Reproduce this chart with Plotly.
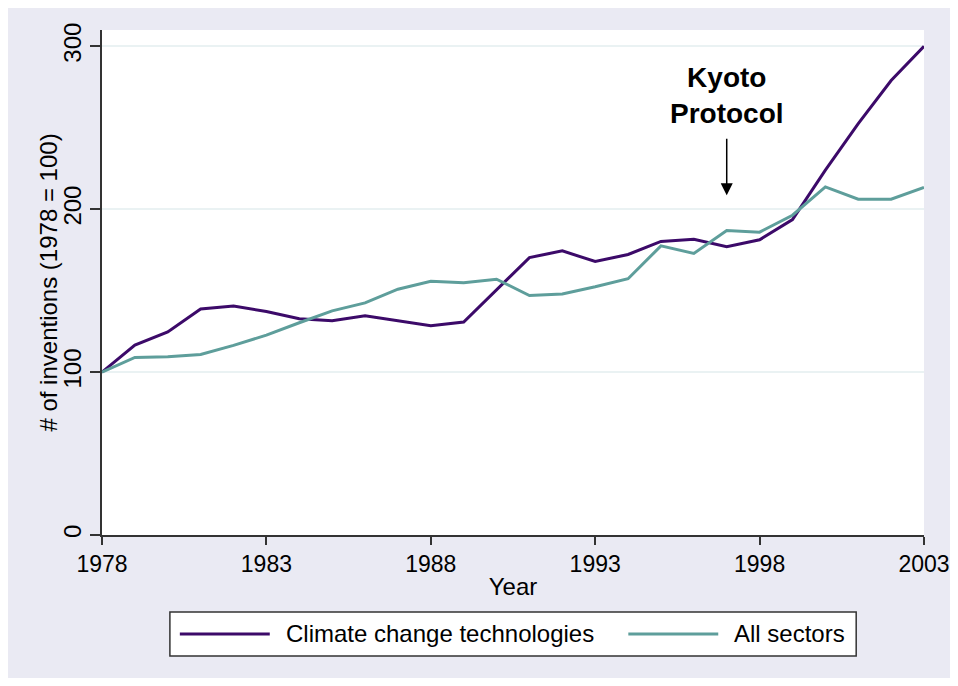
import plotly.graph_objects as go

# index of inventions, 1978 = 100
years = list(range(1978, 2004))
climate_tech = [100, 116.6, 124.7, 138.7, 140.5, 137.2, 132.7, 131.5, 134.6, 131.5,
                128.4, 130.7, 150.5, 170.3, 174.4, 167.9, 172.2, 180.2, 181.6, 176.9,
                181.2, 193.6, 224, 252.5, 279, 300]
all_sectors = [100, 109, 109.4, 110.8, 116.4, 122.7, 130.3, 137.6, 142.5, 150.9,
               155.8, 154.8, 157, 147, 148, 152.4, 157.3, 177.5, 172.8, 186.9,
               185.9, 196.3, 213.7, 206.1, 206.1, 213.3]
x_ticks = [1978, 1983, 1988, 1993, 1998, 2003]
y_ticks = [0, 100, 200, 300]
series_names = ['Climate change technologies', 'All sectors']

purple = '#3c0a69'
teal = '#5e9e9b'
lavender = '#eaeaf3'
font = 'Liberation Sans, Arial, sans-serif'

fig = go.Figure()
fig.add_trace(go.Scatter(x=years, y=climate_tech, mode='lines', name=series_names[0],
                         line=dict(color=purple, width=3)))
fig.add_trace(go.Scatter(x=years, y=all_sectors, mode='lines', name=series_names[1],
                         line=dict(color=teal, width=3)))

# hand-made legend under the plot
shapes = [
    dict(type='rect', xref='paper', yref='paper', x0=0.0826, x1=0.9175, y0=-0.2396, y1=-0.1525,
         fillcolor='white', line=dict(color='#333333', width=1.5)),
    dict(type='line', xref='paper', yref='paper', x0=0.0947, x1=0.2041, y0=-0.196, y1=-0.196,
         line=dict(color=purple, width=3)),
    dict(type='line', xref='paper', yref='paper', x0=0.6403, x1=0.7497, y0=-0.196, y1=-0.196,
         line=dict(color=teal, width=3)),
]

annotations = [
    dict(x=0.2211, y=-0.196, xref='paper', yref='paper', text=series_names[0],
         showarrow=False, xanchor='left', yanchor='middle', font=dict(size=24, color='black')),
    dict(x=0.7667, y=-0.196, xref='paper', yref='paper', text=series_names[1],
         showarrow=False, xanchor='left', yanchor='middle', font=dict(size=24, color='black')),
    # y axis title, placed by hand so it sits closer to the tick labels
    dict(x=-0.0656, y=0.5, xref='paper', yref='paper', text='# of inventions (1978 = 100)',
         showarrow=False, textangle=-90, xanchor='center', yanchor='middle',
         font=dict(size=24, color='black')),
    # Kyoto arrow
    dict(x=1997, y=208.6, xref='x', yref='y', text='', showarrow=True,
         ax=0, ay=-58, arrowhead=2, arrowsize=1.6, arrowwidth=1.5, arrowcolor='black'),
    dict(x=1997, y=269.5, xref='x', yref='y', text='<b>Kyoto<br>Protocol</b>',
         showarrow=False, xanchor='center', yanchor='middle',
         font=dict(size=28, color='black')),
]

fig.update_layout(
    width=945, height=670,
    margin=dict(l=94, r=29, t=22, b=143, autoexpand=False),
    paper_bgcolor=lavender,
    plot_bgcolor='white',
    font=dict(family=font, size=24, color='black'),
    showlegend=False,
    shapes=shapes,
    annotations=annotations,
    xaxis=dict(
        range=[1978, 2003],
        tickvals=x_ticks,
        tickfont=dict(size=23),
        ticklabeloverflow='allow',
        automargin=False,
        ticks='outside', ticklen=8, tickwidth=1.5, tickcolor='#333333',
        showline=True, linecolor='#333333', linewidth=1.5,
        showgrid=False, zeroline=False,
        title=dict(text='Year', standoff=2, font=dict(size=24)),
    ),
    yaxis=dict(
        range=[0, 310],
        tickvals=y_ticks,
        tickangle=-90,
        automargin=False,
        ticks='outside', ticklen=10, tickwidth=1.5, tickcolor='#333333',
        showline=True, linecolor='#333333', linewidth=1.5,
        showgrid=True, gridcolor='#eaf2f3', gridwidth=1.5,
        zeroline=False,
    ),
)

fig.write_html('out.html')
